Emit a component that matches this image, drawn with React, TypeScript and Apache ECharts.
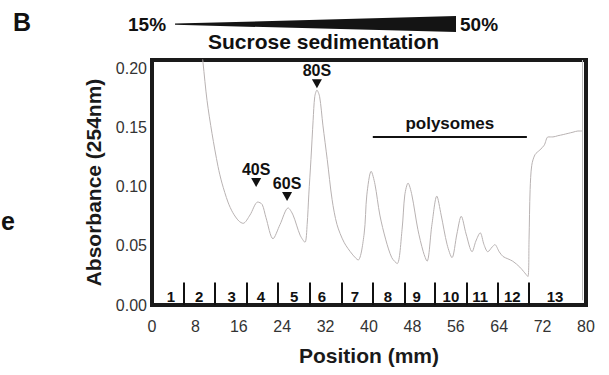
import React, { useEffect, useRef } from 'react';
import * as echarts from 'echarts';

const positionMm = [9.15, 9.4, 10.14, 11.06, 12.17, 12.9, 14.0, 14.9, 16.0, 16.8, 18.06, 19.5, 20.3, 21.0, 22.3, 23.6, 25.1, 26.0, 27.3, 28.2, 28.6, 28.9, 29.3, 29.7, 30.0, 30.4, 30.9, 31.5, 32.3, 33.2, 34.1, 35.4, 36.9, 38.0, 39.1, 39.6, 40.4, 41.1, 42.0, 43.1, 44.2, 45.2, 46.1, 46.6, 47.2, 47.9, 49.0, 50.0, 50.7, 51.6, 52.5, 53.3, 54.4, 55.3, 56.2, 57.0, 57.9, 59.0, 59.7, 60.5, 61.2, 61.9, 62.7, 63.2, 64.0, 64.7, 65.6, 66.5, 67.8, 69.3, 69.5, 69.7, 70.0, 70.6, 71.5, 72.3, 73.0, 73.9, 74.8, 75.8, 76.7, 77.6, 78.5, 79.3];
const absorbance = [0.216, 0.205, 0.173, 0.145, 0.117, 0.103, 0.087, 0.078, 0.071, 0.069, 0.076, 0.087, 0.085, 0.074, 0.056, 0.068, 0.082, 0.076, 0.059, 0.053, 0.068, 0.093, 0.123, 0.156, 0.176, 0.1815, 0.176, 0.152, 0.123, 0.089, 0.068, 0.053, 0.043, 0.038, 0.060, 0.093, 0.113, 0.102, 0.076, 0.055, 0.040, 0.035, 0.064, 0.093, 0.103, 0.093, 0.064, 0.045, 0.037, 0.068, 0.092, 0.076, 0.051, 0.040, 0.060, 0.075, 0.060, 0.045, 0.054, 0.061, 0.051, 0.045, 0.049, 0.051, 0.045, 0.041, 0.039, 0.037, 0.032, 0.024, 0.055, 0.0975, 0.118, 0.127, 0.131, 0.135, 0.142, 0.142, 0.143, 0.144, 0.145, 0.146, 0.147, 0.147];

const fractionDividers = [5.9, 11.6, 17.5, 23.2, 29.1, 35.0, 40.7, 46.5, 52.2, 58.1, 63.8, 69.5];
const fractionLabels = ['1', '2', '3', '4', '5', '6', '7', '8', '9', '10', '11', '12', '13'];
const fractionCenters = [3.5, 8.7, 14.7, 20.1, 26.2, 31.3, 37.4, 43.5, 48.8, 55.1, 60.5, 66.4, 74.3];
const dividerHeight = 0.019;
const fractionLabelY = 0.0075;

const peakNames = ['40S', '60S', '80S'];
const peakArrowX = [19.2, 24.9, 30.4];
const peakArrowY = [0.1034, 0.0916, 0.187];

const polysomeStart = 40.7;
const polysomeEnd = 69.1;
const polysomeY = 0.142;

const edgeLineX = 79.3;

const xTicks = { min: 0, max: 80, interval: 8 };
const yTicks = { min: 0, max: 0.207, interval: 0.05 };

const FONT = '"Liberation Sans", Arial, Helvetica, sans-serif';

export default function App() {
  const ref = useRef<HTMLDivElement>(null);
  useEffect(() => {
    document.body.style.margin = '0';
    if (!ref.current) return;
    const chart = echarts.init(ref.current, undefined, { renderer: 'svg' });
    const trace = positionMm.map((x, i) => [x, absorbance[i]]);
    const option: any = {
      animation: false,
      backgroundColor: '#ffffff',
      grid: {
        left: 152, top: 60, right: 23, bottom: 70,
        show: true, borderColor: '#1a1a1a', borderWidth: 4, backgroundColor: 'transparent',
      },
      xAxis: {
        type: 'value', min: xTicks.min, max: xTicks.max, interval: xTicks.interval,
        axisLine: { show: false }, axisTick: { show: false }, splitLine: { show: false },
        axisLabel: { color: '#333', fontSize: 16, fontFamily: FONT, margin: 13 },
        name: 'Position (mm)', nameLocation: 'middle', nameGap: 40,
        nameTextStyle: { color: '#1a1a1a', fontSize: 21, fontWeight: 'bold', fontFamily: FONT },
      },
      yAxis: {
        type: 'value', min: yTicks.min, max: yTicks.max, interval: yTicks.interval,
        axisLine: { show: false }, axisTick: { show: false }, splitLine: { show: false },
        axisLabel: {
          color: '#333', fontSize: 16, fontFamily: FONT, margin: 5,
          formatter: (v: number) => (Math.abs(v / 0.05 - Math.round(v / 0.05)) < 1e-6 ? v.toFixed(2) : ''),
        },
        name: 'Absorbance (254nm)', nameLocation: 'middle', nameGap: 48,
        nameTextStyle: { color: '#1a1a1a', fontSize: 21, fontWeight: 'bold', fontFamily: FONT },
      },
      series: [
        {
          type: 'line', data: trace, showSymbol: false, smooth: 0.3, clip: true,
          lineStyle: { color: '#b8b2b2', width: 1 }, silent: true, z: 2,
        },
        {
          type: 'line', data: [[polysomeStart, polysomeY], [polysomeEnd, polysomeY]],
          showSymbol: false, lineStyle: { color: '#111', width: 2 }, silent: true, z: 3,
          markLine: {
            silent: true, symbol: ['none', 'none'], animation: false,
            label: { show: false },
            data: [
              ...fractionDividers.map((x) => [
                { coord: [x, 0], lineStyle: { color: '#111', width: 2, type: 'solid' } },
                { coord: [x, dividerHeight] },
              ]),
              [
                { coord: [edgeLineX, 0.004], lineStyle: { color: '#bbbbbb', width: 1, type: 'solid' } },
                { coord: [edgeLineX, yTicks.max] },
              ],
            ],
          },
        },
        {
          type: 'scatter', symbolSize: 1, itemStyle: { color: 'rgba(0,0,0,0)', opacity: 1 }, silent: true, z: 4,
          data: [[(polysomeStart + polysomeEnd) / 2, polysomeY]],
          label: {
            show: true, position: 'top', distance: 4, formatter: 'polysomes', opacity: 1,
            color: '#111', fontSize: 17, fontWeight: 'bold', fontFamily: FONT,
          },
        },
        {
          type: 'scatter', symbol: 'triangle', symbolRotate: 180, symbolSize: [10, 9],
          itemStyle: { color: '#111', opacity: 1 }, silent: true, z: 5,
          data: peakNames.map((n, i) => [peakArrowX[i], peakArrowY[i], n]),
          label: {
            show: true, position: 'top', distance: 1, formatter: (p: any) => p.value[2], opacity: 1,
            color: '#111', fontSize: 16, fontWeight: 'bold', fontFamily: FONT,
          },
        },
        {
          type: 'scatter', symbolSize: 2, itemStyle: { color: 'rgba(0,0,0,0)', opacity: 1 }, silent: true, z: 5,
          data: fractionLabels.map((l, i) => [fractionCenters[i], fractionLabelY, l]),
          label: {
            show: true, position: ['50%', '50%'], align: 'center', verticalAlign: 'middle',
            formatter: (p: any) => p.value[2], opacity: 1,
            color: '#111', fontSize: 15, fontWeight: 'bold', fontFamily: FONT,
          },
        },
      ],
      graphic: [
        { type: 'text', left: 13, top: 9, style: { text: 'B', fill: '#111', font: `bold 25px ${FONT}` } },
        { type: 'text', left: 1, top: 208, style: { text: 'e', fill: '#111', font: `bold 25px ${FONT}` } },
        { type: 'text', left: 128, top: 15, style: { text: '15%', fill: '#111', font: `bold 19px ${FONT}` } },
        { type: 'text', left: 460, top: 15, style: { text: '50%', fill: '#111', font: `bold 19px ${FONT}` } },
        {
          type: 'polygon', silent: true,
          shape: { points: [[175, 23.6], [456, 16], [456, 32], [175, 24.8]] },
          style: { fill: '#141414' },
        },
        { type: 'text', left: 208, top: 31, style: { text: 'Sucrose sedimentation', fill: '#111', font: `bold 21px ${FONT}` } },
      ],
    };
    chart.setOption(option);
    return () => chart.dispose();
  }, []);
  return <div ref={ref} style={{ position: 'absolute', left: 0, top: 0, width: 609, height: 375 }} />;
}
